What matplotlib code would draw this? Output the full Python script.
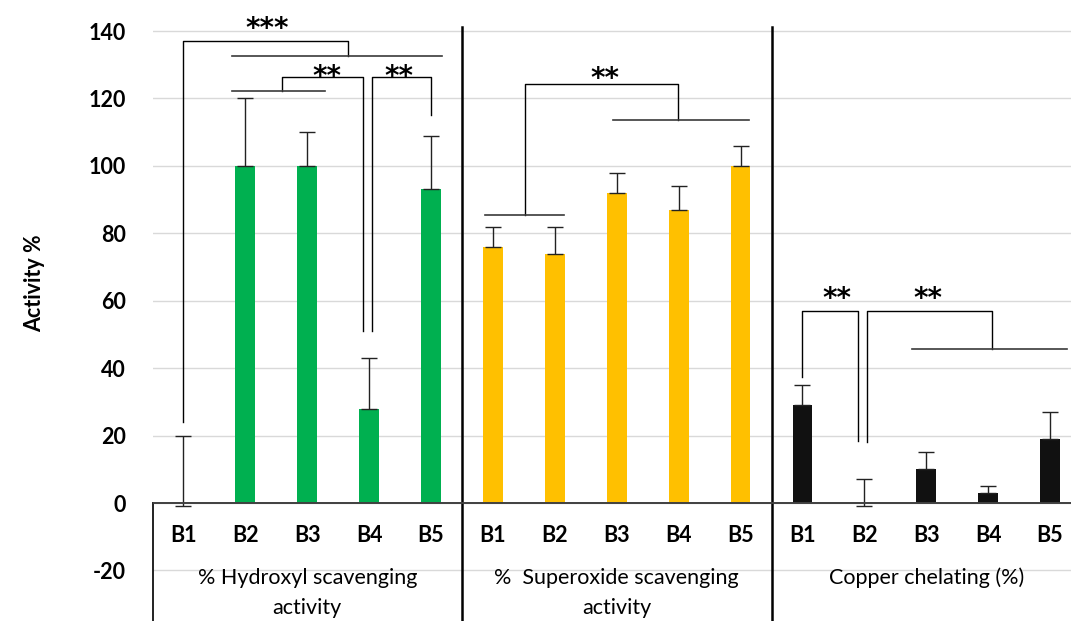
import numpy as np
import matplotlib
matplotlib.use("Agg")
from matplotlib import pyplot as plt

plt.rcParams['font.family'] = ['Lato', 'DejaVu Sans']
plt.rcParams['axes.unicode_minus'] = False

# Three assays, five samples each
samples = ["B1", "B2", "B3", "B4", "B5"]
groups = [["% Hydroxyl scavenging", "activity"],
          ["%  Superoxide scavenging", "activity"],
          ["Copper chelating (%)"]]
group_colors = ["#00B050", "#FFC000", "#111111"]

hydroxyl = [0, 100, 100, 28, 93]
hydroxyl_err_up = [20, 20, 10, 15, 16]
hydroxyl_err_down = [1, 0, 0, 0, 0]

superoxide = [76, 74, 92, 87, 100]
superoxide_err_up = [6, 8, 6, 7, 6]
superoxide_err_down = [0, 0, 0, 0, 0]

copper = [29, 0, 10, 3, 19]
copper_err_up = [6, 7, 5, 2, 8]
copper_err_down = [0, 1, 0, 0, 0]

# Significance brackets: (x_left, x_right, y_top, y_left_end, y_right_end)
brackets = [
    (0.0, 2.66, 137.0, 24.0, 132.5),
    (1.60, 2.90, 126.4, 122.2, 51.0),
    (3.05, 4.00, 126.4, 51.0, 115.0),
    (5.52, 7.99, 124.3, 85.5, 113.6),
    (10.0, 10.90, 57.0, 37.4, 18.4),
    (11.04, 13.06, 57.0, 18.0, 45.7),
]
# Horizontal lines grouping compared samples: (x_left, x_right, y)
group_lines = [
    (0.78, 4.18, 132.5),
    (0.78, 2.29, 122.2),
    (4.87, 6.15, 85.5),
    (6.94, 9.14, 113.6),
    (11.77, 14.27, 45.7),
]
# Star labels: (x, y, text)
stars = [
    (1.35, 141.6, "***"),
    (2.31, 127.2, "**"),
    (3.48, 127.2, "**"),
    (6.81, 126.8, "**"),
    (10.56, 61.5, "**"),
    (12.03, 61.5, "**"),
]

values = hydroxyl + superoxide + copper
err_up = hydroxyl_err_up + superoxide_err_up + copper_err_up
err_down = hydroxyl_err_down + superoxide_err_down + copper_err_down
colors = [c for c in group_colors for _ in samples]
x = np.arange(len(values))

fig = plt.figure(figsize=(10.71, 6.21), dpi=100)
ax = fig.add_axes([152.5 / 1071, 0, (1071 - 152.5) / 1071, 594 / 621])

ymin, ymax = -35.0, 141.2
ax.set_xlim(-0.5, -0.5 + (1071 - 152.5) / 61.9)
ax.set_ylim(ymin, ymax)

ax.set_yticks(np.arange(-20, 141, 20))
ax.yaxis.grid(True, color="#d9d9d9", linewidth=1.0)
ax.set_axisbelow(True)
ax.tick_params(axis="y", length=0, pad=19, labelsize=15.5)
for lbl in ax.get_yticklabels():
    lbl.set_fontweight("bold")
ax.set_xticks([])
for side in ax.spines:
    ax.spines[side].set_visible(False)

ax.bar(x, values, width=0.32, color=colors, zorder=2)
ax.errorbar(x, values, yerr=[err_down, err_up], fmt="none", ecolor="#222222",
            elinewidth=1.0, capsize=5.5, capthick=1.0, zorder=3)

# Category box below the zero line
ax.axhline(0, color="#404040", linewidth=1.4, zorder=4)
ax.plot([-0.5, -0.5], [ymin, 0], color="#222222", linewidth=1.4, clip_on=False)
for xs in (4.5, 9.5):
    ax.plot([xs, xs], [ymin, ymax], color="black", linewidth=1.8, clip_on=False)

for i, xi in enumerate(x):
    ax.text(xi, -9.6, samples[i % len(samples)], ha="center", va="center",
            fontsize=15.5, fontweight="bold")
for g, lines in enumerate(groups):
    for k, line in enumerate(lines):
        ax.text(g * 5 + 2, -22.3 - 8.7 * k, line, ha="center", va="center",
                fontsize=15.5)

for xl, xr, yt, yl, yr in brackets:
    ax.plot([xl, xl, xr, xr], [yl, yt, yt, yr], color="black", linewidth=1.0,
            zorder=5)
for xl, xr, y in group_lines:
    ax.plot([xl, xr], [y, y], color="#3a3a3a", linewidth=1.2, zorder=5)
for xs, ys, s in stars:
    ax.text(xs, ys, s, ha="center", va="center_baseline", fontsize=20,
            fontweight="bold", family="DejaVu Sans", clip_on=False)

fig.text(35 / 1071, 1 - 283 / 621, "Activity %", rotation=90, ha="center",
         va="center", fontsize=15.5, fontweight="bold")

fig.savefig("out.png", dpi=100)
